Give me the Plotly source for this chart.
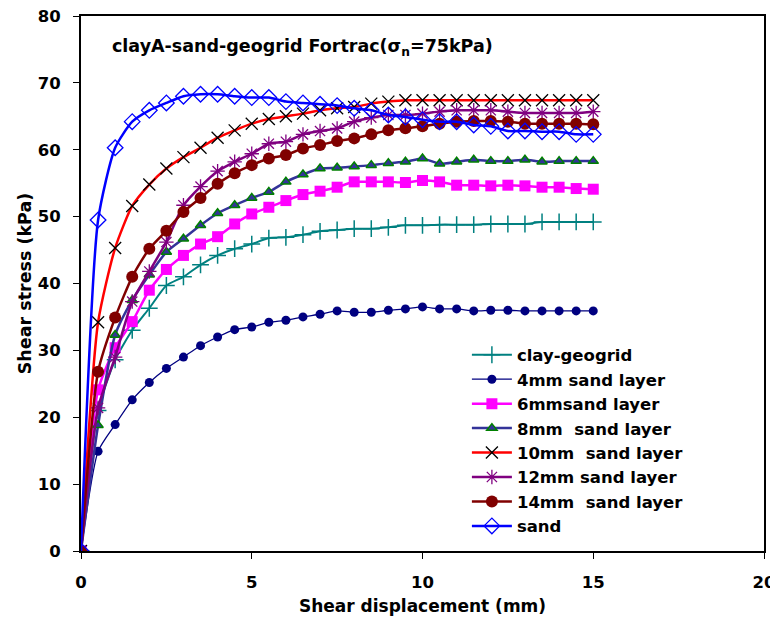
import plotly.graph_objects as go

disp = [i * 0.5 for i in range(31)]

clay_geogrid = [0, 21.0, 28.6, 33.0, 36.3, 39.7, 41.0, 42.8, 44.2, 45.2, 45.9, 46.8, 46.9, 47.3, 47.8, 48.0,
                48.2, 48.2, 48.4, 48.7, 48.7, 48.8, 48.8, 48.8, 48.9, 48.9, 48.9, 49.2, 49.2, 49.2, 49.2]
sand4 = [0, 14.9, 18.9, 22.6, 25.2, 27.3, 29.0, 30.7, 32.0, 33.1, 33.5, 34.2, 34.5, 35.0, 35.4, 35.9,
         35.7, 35.7, 36.0, 36.2, 36.5, 36.2, 36.2, 35.9, 36.0, 36.0, 35.9, 35.9, 35.9, 35.9, 35.9]
sand6 = [0, 24.1, 30.4, 34.3, 39.0, 42.1, 44.2, 45.9, 47.0, 48.9, 50.4, 51.4, 52.4, 53.3, 53.8, 54.4,
         55.2, 55.2, 55.2, 55.1, 55.4, 55.2, 54.7, 54.7, 54.6, 54.7, 54.6, 54.4, 54.4, 54.2, 54.1]
sand8 = [0, 18.8, 32.3, 37.5, 41.3, 44.7, 46.7, 48.7, 50.5, 51.7, 52.8, 53.7, 55.2, 56.3, 57.2, 57.3,
         57.5, 57.7, 58.0, 58.2, 58.7, 57.9, 58.2, 58.5, 58.3, 58.3, 58.5, 58.2, 58.3, 58.3, 58.3]
sand10 = [0, 34.2, 45.3, 51.6, 54.8, 57.2, 58.9, 60.3, 61.8, 62.9, 63.9, 64.6, 65.0, 65.4, 65.9, 66.2,
          66.4, 66.9, 67.2, 67.4, 67.4, 67.4, 67.4, 67.4, 67.4, 67.4, 67.4, 67.4, 67.4, 67.4, 67.4]
sand12 = [0, 21.4, 29.0, 37.3, 41.8, 46.2, 51.7, 54.5, 56.8, 58.2, 59.4, 60.9, 61.2, 62.3, 62.8, 63.2,
          64.2, 64.8, 65.2, 65.2, 65.4, 65.7, 65.9, 65.9, 65.9, 65.7, 65.5, 65.5, 65.5, 65.5, 65.7]
sand14 = [0, 26.8, 34.9, 41.0, 45.2, 47.9, 50.7, 52.8, 54.9, 56.5, 57.7, 58.7, 59.2, 60.2, 60.7, 61.3,
          61.7, 62.3, 62.9, 63.2, 63.5, 63.9, 64.2, 64.3, 64.3, 64.2, 63.9, 63.9, 63.9, 63.9, 63.8]
sand = [0, 49.5, 60.3, 64.2, 65.9, 67.0, 68.0, 68.3, 68.3, 68.0, 67.8, 67.8, 67.2, 67.0, 66.8, 66.6,
        66.2, 65.9, 65.2, 64.9, 64.5, 64.2, 64.2, 63.7, 63.5, 62.8, 62.8, 62.7, 62.7, 62.3, 62.3]

x_ticks = [0, 5, 10, 15, 20]
y_ticks = [0, 10, 20, 30, 40, 50, 60, 70, 80]

names = ["clay-geogrid", "4mm sand layer", "6mmsand layer", "8mm\u00a0 sand layer",
         "10mm\u00a0 sand layer", "12mm sand layer", "14mm\u00a0 sand layer", "sand"]

fig = go.Figure()

def add(y, name, lcolor, lwidth, symbol, msize, mcolor, mline_color=None, mline_width=0):
    fig.add_trace(go.Scatter(
        x=disp, y=y, name=name, mode="lines+markers",
        line=dict(color=lcolor, width=lwidth, shape="spline", smoothing=0.6),
        marker=dict(symbol=symbol, size=msize, color=mcolor,
                    line=dict(color=mline_color if mline_color else mcolor, width=mline_width)),
    ))

add(clay_geogrid, names[0], "#008080", 2, "cross-thin-open", 12, "#008080", "#008080", 1.5)
add(sand4, names[1], "#000080", 1.3, "circle", 9, "#000080")
add(sand6, names[2], "#FF00FF", 2.5, "square", 11, "#FF00FF")
add(sand8, names[3], "#333399", 2.5, "triangle-up", 9, "#333399", "#008000", 1.5)
add(sand10, names[4], "#FF0000", 2.5, "x-thin-open", 12, "#000000", "#000000", 1.3)
add(sand12, names[5], "#800080", 2.5, "asterisk-open", 12, "#800080", "#800080", 1.3)
add(sand14, names[6], "#800000", 2.5, "circle", 12, "#800000")
add(sand, names[7], "#0000FF", 2.5, "diamond-open", 12, "#0000FF", "#0000FF", 1.3)

ff = "DejaVu Sans, Liberation Sans, Arial, sans-serif"

# The page body has an 8px default margin, so the figure is sized 8px smaller
fig.update_layout(
    width=770, height=611,
    margin=dict(l=73, r=14, t=8, b=68, autoexpand=False),
    paper_bgcolor="white", plot_bgcolor="white",
    font=dict(family=ff, color="black"),
    showlegend=True,
    legend=dict(x=0.565, y=0.399, xanchor="left", yanchor="top",
                font=dict(size=16.5, family=ff, color="black", weight="bold"),
                bgcolor="rgba(0,0,0,0)", borderwidth=0, itemwidth=40,
                tracegroupgap=0),
    xaxis=dict(range=[0, 20], tickvals=x_ticks, showgrid=False, zeroline=False, automargin=False,
               showline=True, linecolor="black", linewidth=2, mirror=True,
               ticks="outside", ticklen=6, tickcolor="black", tickwidth=1,
               ticklabelstandoff=9, ticklabeloverflow="allow",
               tickfont=dict(size=16.5, family=ff, weight="bold"),
               title=dict(text="<b>Shear displacement (mm)</b>", font=dict(size=17, family=ff), standoff=9)),
    yaxis=dict(range=[0, 80], tickvals=y_ticks, showgrid=False, zeroline=False, automargin=False,
               showline=True, linecolor="black", linewidth=2, mirror=True,
               ticks="outside", ticklen=6, tickcolor="black", tickwidth=1,
               ticklabelstandoff=9, ticklabeloverflow="allow",
               tickfont=dict(size=16.5, family=ff, weight="bold"),
               title=dict(text="<b>Shear stress (kPa)</b>", font=dict(size=17.5, family=ff), standoff=2)),
    annotations=[dict(
        text="<b>clayA-sand-geogrid Fortrac(σ<sub>n</sub>=75kPa)</b>",
        xref="paper", yref="paper", x=0.042, y=0.942, xanchor="left", yanchor="middle",
        showarrow=False, font=dict(size=17.5, family=ff, color="black"))],
)

fig.write_html("out.html")
